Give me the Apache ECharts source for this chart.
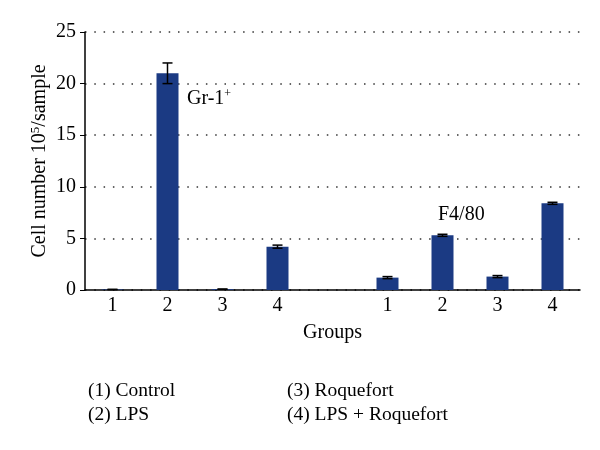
<!DOCTYPE html>
<html><head><meta charset="utf-8">
<script src="https://cdn.jsdelivr.net/npm/echarts@6/dist/echarts.min.js"></script>
<style>html,body{margin:0;padding:0;background:#fff}#c{width:600px;height:450px}</style>
</head><body><div id="c"></div>
<script>
var categories = ['1','2','3','4','','1','2','3','4'];
var values = [0.05, 21, 0.08, 4.2, null, 1.2, 5.3, 1.3, 8.4];
var errors = [0, 1.0, 0, 0.15, null, 0.1, 0.1, 0.1, 0.1];
var yTicks = [0, 5, 10, 15, 20, 25];
var legendLeft = ['(1) Control', '(2) LPS'];
var legendRight = ['(3) Roquefort', '(4) LPS + Roquefort'];

var serif = '"Liberation Serif", "DejaVu Serif", serif';
var errData = values.map(function(v, i){ return v == null ? null : [i, v - errors[i], v + errors[i]]; }).filter(function(d){return d;});

var chart = echarts.init(document.getElementById('c'));
chart.setOption({
  animation: false,
  grid: {left: 85, right: 20, top: 32, bottom: 160},
  xAxis: {
    type: 'category', data: categories,
    axisLine: {lineStyle: {color: '#000', width: 1.5}},
    axisTick: {show: false},
    axisLabel: {color: '#000', fontFamily: serif, fontSize: 20, margin: 6},
    name: 'Groups', nameLocation: 'middle', nameGap: 33,
    nameTextStyle: {color: '#000', fontFamily: serif, fontSize: 20}
  },
  yAxis: {
    type: 'value', min: 0, max: 25, interval: 5,
    axisLine: {show: true, lineStyle: {color: '#000', width: 1.5}},
    axisTick: {show: true, length: 5, lineStyle: {color: '#000'}},
    axisLabel: {color: '#000', fontFamily: serif, fontSize: 20, margin: 9},
    splitLine: {show: true, lineStyle: {color: '#333', type: [1.5, 7.8], width: 1.6}},
    name: '{a|Cell number 10}{s|5}{a|/sample}', nameLocation: 'middle', nameGap: 34, nameMoveOverlap: false,
    nameTextStyle: {rich: {a: {color: '#000', fontFamily: serif, fontSize: 20}, s: {color: '#000', fontFamily: serif, fontSize: 13, verticalAlign: 'top', padding: [0,0,9,0]}}}
  },
  series: [{
    type: 'bar', data: values, barWidth: 22,
    itemStyle: {color: '#1b3a83'}
  }, {
    type: 'custom', data: errData,
    renderItem: function(params, api){
      var x = api.value(0), lo = api.coord([x, api.value(1)]), hi = api.coord([x, api.value(2)]);
      var w = 5;
      var st = {stroke: '#000', lineWidth: 1.5};
      return {type: 'group', children: [
        {type: 'line', shape: {x1: lo[0], y1: lo[1], x2: hi[0], y2: hi[1]}, style: st},
        {type: 'line', shape: {x1: lo[0]-w, y1: lo[1], x2: lo[0]+w, y2: lo[1]}, style: st},
        {type: 'line', shape: {x1: hi[0]-w, y1: hi[1], x2: hi[0]+w, y2: hi[1]}, style: st}
      ]};
    },
    z: 5
  }],
  graphic: [
    {type: 'text', left: 187, top: 88, style: {text: '{a|Gr-1}{s|+}', rich: {a: {fontFamily: serif, fontSize: 20, fill: '#000'}, s: {fontFamily: serif, fontSize: 12, fill: '#000', verticalAlign: 'top', padding: [0,0,10,0]}}}},
    {type: 'text', left: 438, top: 205, style: {text: 'F4/80', fontFamily: serif, fontSize: 20, fill: '#000'}},
    {type: 'text', left: 88, top: 381, style: {text: legendLeft[0], fontFamily: serif, fontSize: 19.5, fill: '#000'}},
    {type: 'text', left: 88, top: 405, style: {text: legendLeft[1], fontFamily: serif, fontSize: 19.5, fill: '#000'}},
    {type: 'text', left: 287, top: 381, style: {text: legendRight[0], fontFamily: serif, fontSize: 19.5, fill: '#000'}},
    {type: 'text', left: 287, top: 405, style: {text: legendRight[1], fontFamily: serif, fontSize: 19.5, fill: '#000'}}
  ]
});
</script></body></html>
